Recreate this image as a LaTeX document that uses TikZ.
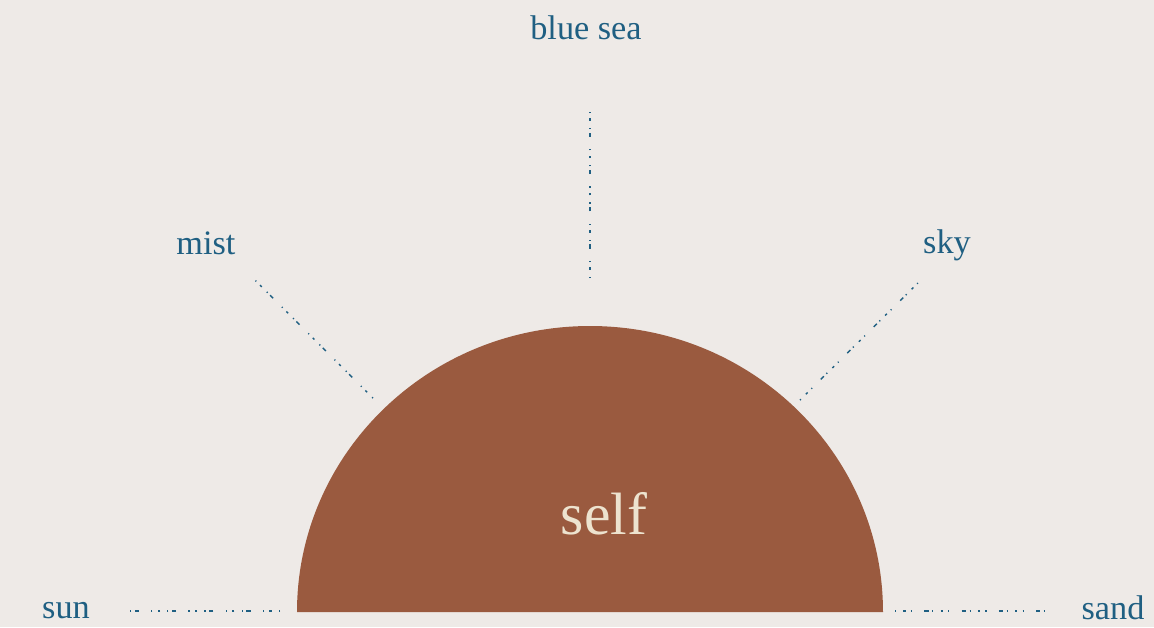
\documentclass[tikz,border=0pt]{standalone}
\usepackage{fontspec}
\setmainfont{Liberation Serif}
\usepackage{tikz}
\usetikzlibrary{positioning}
\definecolor{paperbg}{HTML}{EEEAE7}
\definecolor{selfbrown}{HTML}{9A5A3F}
\definecolor{inkblue}{HTML}{1F5F82}
\definecolor{selfcream}{HTML}{EDE3CF}
\tikzset{
  wordlabel/.style={text=inkblue,font=\fontsize{19.5}{22}\selectfont,inner sep=0pt},
  selflabel/.style={text=selfcream,font=\fontsize{34}{38}\selectfont,inner sep=0pt},
  ray/.style={draw=inkblue,line width=.8pt,dash pattern=on .7pt off 4pt on 1.4pt off 3pt on .6pt off 7pt on 2.5pt off 2pt},
}

\begin{document}
\begin{tikzpicture}[x=0.02cm,y=-0.02cm]
			\fill[paperbg] (0,0) rectangle (1154,627);
			\useasboundingbox (0,0) rectangle (1154,627);
			% the half sun
			\fill[selfbrown] (297,612) arc[start angle=180,end angle=0,x radius=293,y radius=-286] -- cycle;
			\node[selflabel] (self) at (604,514) {self};
			% words round it
			\node[wordlabel] (bluesea) at (586,28) {blue sea};
			\node[wordlabel] (mist) at (206,243) {mist};
			\node[wordlabel] (sky) at (947,245) {sky};
			\node[wordlabel] (sun) at (66,611) {sun};
			\node[wordlabel] (sand) at (1113,608) {sand};
			% ray ends
			\coordinate (bluesea-in) at (590,278);
			\coordinate (bluesea-out) at (590,108);
			\coordinate (mist-in) at (373,398);
			\coordinate (mist-out) at (253,278);
			\coordinate (sky-in) at (800,400);
			\coordinate (sky-out) at (921,280);
			\coordinate (sun-in) at (280,611);
			\coordinate (sun-out) at (125,611);
			\coordinate (sand-in) at (895,611);
			\coordinate (sand-out) at (1050,611);
			\draw[ray] (bluesea-in)--(bluesea-out);
			\draw[ray] (mist-in)--(mist-out);
			\draw[ray] (sky-in)--(sky-out);
			\draw[ray] (sun-in)--(sun-out);
			\draw[ray] (sand-in)--(sand-out);
		\end{tikzpicture}
\end{document}
